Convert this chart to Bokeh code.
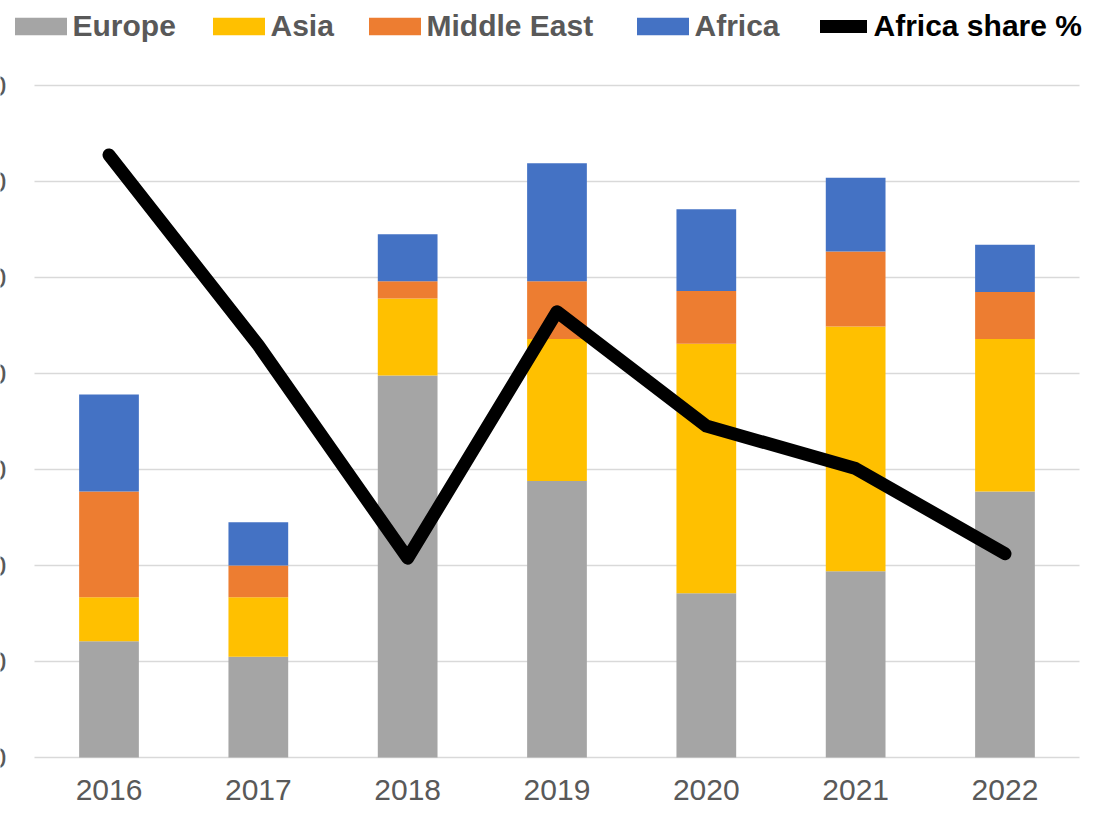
from bokeh.plotting import figure
from bokeh.models import (Range1d, Grid, FixedTicker, Legend, LegendItem,
                          ColumnDataSource, LabelSet)
from bokeh.core.properties import value
from bokeh.embed import file_html
from bokeh.resources import INLINE

years = ["2016", "2017", "2018", "2019", "2020", "2021", "2022"]
europe = [12.1, 10.5, 39.8, 28.8, 17.1, 19.4, 27.7]
asia = [4.6, 6.2, 8.0, 14.8, 26.0, 25.5, 15.9]
middle_east = [11.0, 3.3, 1.8, 6.0, 5.5, 7.8, 4.9]
africa = [10.1, 4.5, 4.9, 12.3, 8.5, 7.7, 4.9]
africa_share = [26.9, 18.4, 8.9, 19.9, 14.8, 12.9, 9.1]
y_ticks = [0, 10, 20, 30, 40, 50, 60, 70]
y_tick_labels = ["0", "10", "20", "30", "40", "50", "60", "70"]

series = ["Europe", "Asia", "Middle East", "Africa"]
colors = ["#A5A5A5", "#FFC000", "#ED7D31", "#4472C4"]

xs = [int(y) for y in years]
src = ColumnDataSource(dict(x=xs, year=years, Europe=europe, Asia=asia,
                            **{"Middle East": middle_east}, Africa=africa,
                            share=africa_share,
                            label_y=[-3.4] * len(years)))

W, H = 1093, 806
px_per_cat = 149.33
x0 = xs[0] - 108.5 / px_per_cat
px_per_unit = 9.6
y0 = -49 / px_per_unit
y1 = 757 / px_per_unit
share_scale = 30 / 70

p = figure(x_range=Range1d(x0, x0 + W / px_per_cat), y_range=Range1d(y0, y1),
           width=W, height=H, output_backend="svg",
           toolbar_location=None, x_axis_location=None, y_axis_location=None,
           min_border=0, min_border_left=0, min_border_right=0,
           min_border_top=0, min_border_bottom=0)
p.extra_y_ranges = {"share": Range1d(y0 * share_scale, y1 * share_scale)}
p.outline_line_color = None
p.background_fill_color = "white"
for g in p.grid:
    g.visible = False

gkw = dict(dimension=1, ticker=FixedTicker(ticks=y_ticks),
           grid_line_color="#D9D9D9", grid_line_width=1.5)
try:
    grid = Grid(cross_bounds=(xs[0] - 0.5, xs[-1] + 0.5), **gkw)
    p.add_layout(grid)
except Exception:
    p.segment(x0=[xs[0] - 0.5] * len(y_ticks), x1=[xs[-1] + 0.5] * len(y_ticks),
              y0=y_ticks, y1=y_ticks, line_color="#D9D9D9", line_width=1.5,
              level="underlay")

bars = p.vbar_stack(series, x="x", width=0.4, color=colors,
                    line_color=None, source=src)
line = p.line("x", "share", source=src, y_range_name="share",
              line_width=13, line_color="black",
              line_cap="round", line_join="round")

# x tick labels
p.add_layout(LabelSet(x="x", y="label_y", text="year", source=src,
                      text_align="center", text_baseline="middle",
                      text_font=value("Liberation Sans"), text_font_size="30px",
                      text_color="#595959"))

# y tick labels (mostly cut off at the left edge, as in the reference)
ysrc = ColumnDataSource(dict(y=y_ticks, t=y_tick_labels, sx=[6] * len(y_ticks)))
p.add_layout(LabelSet(x="sx", y="y", text="t", source=ysrc, x_units="screen",
                      text_align="right", text_baseline="middle",
                      text_font=value("Liberation Sans"), text_font_size="30px",
                      text_color="#595959"))

common = dict(orientation="horizontal", padding=0, margin=0,
              border_line_color=None, background_fill_alpha=0,
              label_text_font="Liberation Sans", label_text_font_style="bold",
              label_text_font_size="30px", glyph_height=22, label_height=22)

legend_x = [7.5, 205.5, 361.5, 629.5]
leg_y = H - 43
for s, r, lx in zip(series, bars, legend_x):
    p.add_layout(Legend(items=[LegendItem(label=s, renderers=[r])],
                        location=(lx, leg_y), glyph_width=65, label_standoff=0,
                        label_text_color="#595959", **common))
p.add_layout(Legend(items=[LegendItem(label="Africa share %", renderers=[line])],
                    location=(819.5, leg_y), glyph_width=47, label_standoff=7,
                    label_text_color="black", **common))

open("out.html", "w").write(file_html(p, INLINE))
